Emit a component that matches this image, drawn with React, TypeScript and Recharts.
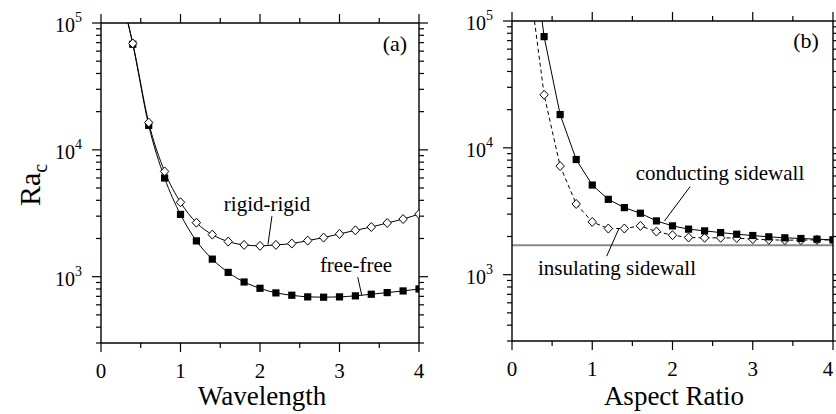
import { LineChart, Line, XAxis, YAxis, ReferenceLine } from "recharts";

// panel (a): critical Rayleigh number vs wavelength
const waveX = [0.34, 0.4, 0.6, 0.8, 1.0, 1.2, 1.4, 1.6, 1.8, 2.0, 2.2, 2.4, 2.6, 2.8, 3.0, 3.2, 3.4, 3.6, 3.8, 4.0];
const rigidRa = [100000, 69000, 16400, 6760, 3860, 2665, 2146, 1892, 1781, 1750, 1781, 1824, 1925, 2033, 2172, 2320, 2463, 2650, 2847, 3115];
const freeRa = [100000, 68000, 15600, 6000, 3097, 1915, 1375, 1081, 908, 810, 745, 714, 693, 689, 693, 706, 727, 749, 772, 800];

// panel (b): critical Rayleigh number vs aspect ratio
const aspectX = [0.4, 0.6, 0.8, 1.0, 1.2, 1.4, 1.6, 1.8, 2.0, 2.2, 2.4, 2.6, 2.8, 3.0, 3.2, 3.4, 3.6, 3.8, 4.0];
const conductRa = [75300, 18300, 8090, 5090, 3925, 3378, 3050, 2654, 2425, 2285, 2215, 2148, 2084, 2036, 1987, 1953, 1929, 1905, 1883];
const insulRa = [26200, 7180, 3611, 2606, 2311, 2311, 2425, 2188, 2049, 1963, 1953, 1953, 1944, 1905, 1883, 1872, 1872, 1883, 1875];
const conductLeadX = 0.375;
const insulLeadX = 0.28;
const infiniteRa = 1708;

const xTicks = [0, 0.5, 1, 1.5, 2, 2.5, 3, 3.5, 4];
const yTicks = [
  300, 400, 500, 600, 700, 800, 900,
  1000, 2000, 3000, 4000, 5000, 6000, 7000, 8000, 9000,
  10000, 20000, 30000, 40000, 50000, 60000, 70000, 80000, 90000, 100000,
];

const FONT = "'Liberation Serif', 'DejaVu Serif', serif";

const waveData = waveX.map((x, i) => ({ x, rigid: rigidRa[i], free: freeRa[i], lead: i === 0 }));
const conductData = [{ x: conductLeadX, y: 100000, lead: true }, ...aspectX.map((x, i) => ({ x, y: conductRa[i], lead: false }))];
const insulData = [{ x: insulLeadX, y: 100000, lead: true }, ...aspectX.map((x, i) => ({ x, y: insulRa[i], lead: false }))];

const isMajorY = (v: number) => Math.abs(Math.log10(v) - Math.round(Math.log10(v))) < 1e-6;

const AxisTick = (props: any) => {
  const { x, y, payload, side, labels, maxX } = props;
  const v = payload.value;
  if (side === "left" || side === "right") {
    const major = isMajorY(v);
    const len = major ? 9 : 5;
    const dir = side === "left" ? -1 : 1;
    return (
      <g>
        <line x1={x} y1={y} x2={x + dir * len} y2={y} stroke="#000" strokeWidth={1.2} />
        {labels && major && (
          <text x={x - 19} y={y + 9} textAnchor="end" fontFamily={FONT} fontSize={20} fill="#000">
            10
            <tspan dy={-10} fontSize={14}>{Math.round(Math.log10(v))}</tspan>
          </text>
        )}
      </g>
    );
  }
  const major = Number.isInteger(v);
  const len = major ? 9 : 5;
  const dir = side === "top" ? -1 : 1;
  const lx = maxX != null ? Math.min(x, maxX) : x;
  return (
    <g>
      <line x1={x} y1={y} x2={x} y2={y + dir * len} stroke="#000" strokeWidth={1.2} />
      {labels && major && (
        <text x={lx} y={y + 35} textAnchor="middle" fontFamily={FONT} fontSize={21} fill="#000">
          {v}
        </text>
      )}
    </g>
  );
};

const Diamond = (props: any) => {
  const { cx, cy, payload, index } = props;
  if (payload.lead || cx == null) return <g key={`dm-${index}`} />;
  return (
    <path
      key={`dm-${index}`}
      d={`M${cx},${cy - 4.5}L${cx + 4.2},${cy}L${cx},${cy + 4.5}L${cx - 4.2},${cy}Z`}
      fill="#fff"
      stroke="#000"
      strokeWidth={1}
    />
  );
};

const Square = (props: any) => {
  const { cx, cy, payload, index } = props;
  if (payload.lead || cx == null) return <g key={`sq-${index}`} />;
  return <rect key={`sq-${index}`} x={cx - 3.6} y={cy - 3.6} width={7.2} height={7.2} fill="#000" />;
};

const frameAxes = (prefix: string, maxX: number) => [
  <XAxis
    key={`${prefix}-xb`}
    xAxisId="b"
    dataKey="x"
    type="number"
    domain={[0, 4]}
    ticks={xTicks}
    interval={0}
    height={40}
    tickSize={0}
    tickMargin={0}
    tickLine={false}
    axisLine={{ stroke: "#000", strokeWidth: 1.4 }}
    tick={(p: any) => <AxisTick {...p} side="bottom" labels maxX={maxX} />}
    allowDataOverflow
  />,
  <XAxis
    key={`${prefix}-xt`}
    xAxisId="t"
    orientation="top"
    dataKey="x"
    type="number"
    domain={[0, 4]}
    ticks={xTicks}
    interval={0}
    height={10}
    tickSize={0}
    tickMargin={0}
    tickLine={false}
    axisLine={{ stroke: "#000", strokeWidth: 1.4 }}
    tick={(p: any) => <AxisTick {...p} side="top" />}
    allowDataOverflow
  />,
  <YAxis
    key={`${prefix}-yl`}
    yAxisId="l"
    scale="log"
    type="number"
    domain={[300, 100000]}
    ticks={yTicks}
    interval={0}
    width={60}
    tickSize={0}
    tickMargin={0}
    tickLine={false}
    axisLine={{ stroke: "#000", strokeWidth: 1.4 }}
    tick={(p: any) => <AxisTick {...p} side="left" labels />}
    allowDataOverflow
  />,
  <YAxis
    key={`${prefix}-yr`}
    yAxisId="r"
    orientation="right"
    scale="log"
    type="number"
    domain={[300, 100000]}
    ticks={yTicks}
    interval={0}
    width={prefix === "a" ? 10 : 2}
    tickSize={0}
    tickMargin={0}
    tickLine={false}
    axisLine={{ stroke: "#000", strokeWidth: 1.4 }}
    tick={(p: any) => <AxisTick {...p} side="right" />}
    allowDataOverflow
  />,
];

const WavelengthPanel = () => (
  <LineChart width={430} height={414} data={waveData} margin={{ top: 13, right: 1, bottom: 31, left: 41 }}>
    {frameAxes("a", 1000)}
    <ReferenceLine xAxisId="b" yAxisId="l" segment={[{ x: 2.15, y: 3000 }, { x: 2.1, y: 1790 }]} stroke="#000" strokeWidth={1} />
    <ReferenceLine xAxisId="b" yAxisId="l" segment={[{ x: 3.23, y: 990 }, { x: 3.28, y: 712 }]} stroke="#000" strokeWidth={1} />
    <Line xAxisId="b" yAxisId="l" type="monotone" dataKey="free" stroke="#000" strokeWidth={1} dot={Square} isAnimationActive={false} />
    <Line xAxisId="b" yAxisId="l" type="monotone" dataKey="rigid" stroke="#000" strokeWidth={1} dot={Diamond} isAnimationActive={false} />
  </LineChart>
);

const AspectPanel = () => (
  <LineChart width={416} height={414} margin={{ top: 11, right: 1, bottom: 33, left: 32 }}>
    {frameAxes("b", 408)}
    <ReferenceLine xAxisId="b" yAxisId="l" y={infiniteRa} stroke="#8a8a8a" strokeWidth={2} />
    <ReferenceLine xAxisId="b" yAxisId="l" segment={[{ x: 2.22, y: 4950 }, { x: 1.9, y: 2650 }]} stroke="#000" strokeWidth={1} />
    <ReferenceLine xAxisId="b" yAxisId="l" segment={[{ x: 1.18, y: 1400 }, { x: 1.33, y: 2290 }]} stroke="#000" strokeWidth={1} />
    <Line xAxisId="b" yAxisId="l" data={insulData} type="linear" dataKey="y" stroke="#000" strokeWidth={1} strokeDasharray="4 3" dot={Diamond} isAnimationActive={false} />
    <Line xAxisId="b" yAxisId="l" data={conductData} type="linear" dataKey="y" stroke="#000" strokeWidth={1} dot={Square} isAnimationActive={false} />
  </LineChart>
);

export default function App() {
  return (
    <div style={{ position: "fixed", left: 0, top: 0, width: 836, height: 414, background: "#fff", overflow: "hidden" }}>
      <div style={{ position: "absolute", left: 0, top: 0 }}>
        <WavelengthPanel />
      </div>
      <div style={{ position: "absolute", left: 420, top: 0 }}>
        <AspectPanel />
      </div>
      <svg width={836} height={414} style={{ position: "absolute", left: 0, top: 0, pointerEvents: "none" }}>
        <g fontFamily={FONT} fill="#000">
          <text x={0} y={0} fontSize={30} textAnchor="middle" transform="translate(40,185) rotate(-90)">
            Ra<tspan fontSize={20} dy={7}>c</tspan>
          </text>
          <text x={262} y={405} fontSize={27} textAnchor="middle">Wavelength</text>
          <text x={674} y={405} fontSize={27} textAnchor="middle">Aspect Ratio</text>
          <text x={395} y={51} fontSize={22} textAnchor="middle">(a)</text>
          <text x={806} y={48} fontSize={22} textAnchor="middle">(b)</text>
          <text x={267} y={211} fontSize={21} textAnchor="middle">rigid-rigid</text>
          <text x={356} y={272} fontSize={21} textAnchor="middle">free-free</text>
          <text x={720} y={180} fontSize={21} textAnchor="middle">conducting sidewall</text>
          <text x={617} y={275} fontSize={21} textAnchor="middle">insulating sidewall</text>
        </g>
      </svg>
    </div>
  );
}
